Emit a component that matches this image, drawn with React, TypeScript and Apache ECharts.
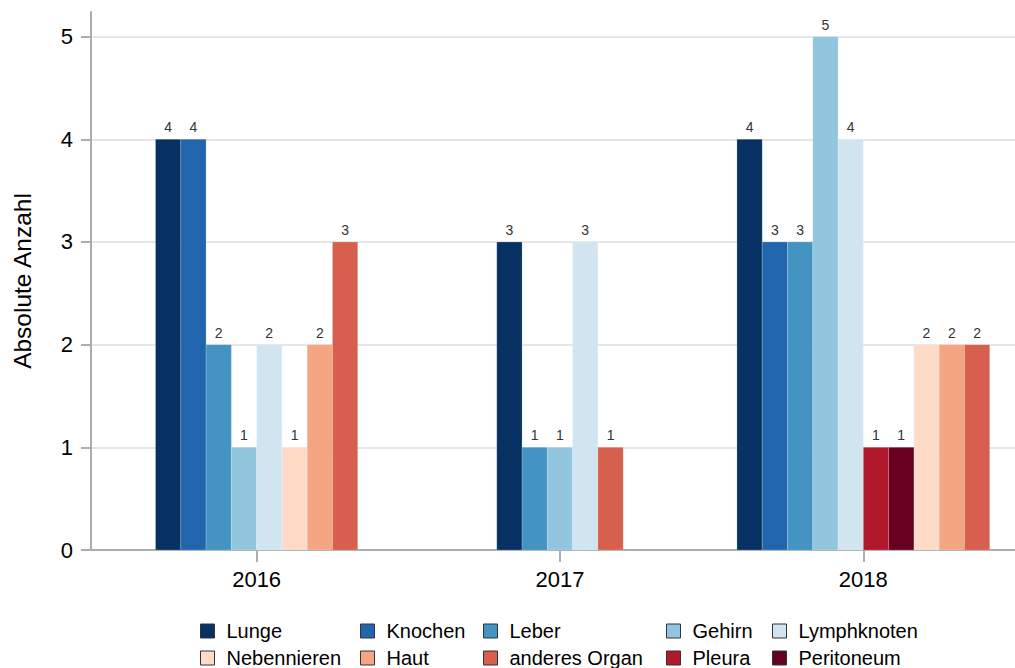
import React, { useEffect, useRef } from "react";
import * as echarts from "echarts";

const categories = ["2016", "2017", "2018"];
const organs = ["Lunge", "Knochen", "Leber", "Gehirn", "Lymphknoten", "Nebennieren", "Haut", "anderes Organ", "Pleura", "Peritoneum"];
const lunge = [4, 3, 4];
const knochen = [4, 0, 3];
const leber = [2, 1, 3];
const gehirn = [1, 1, 5];
const lymphknoten = [2, 3, 4];
const nebennieren = [1, 0, 2];
const haut = [2, 0, 2];
const anderesOrgan = [3, 1, 2];
const pleura = [0, 0, 1];
const peritoneum = [0, 0, 1];
const barOrder = ["Lunge", "Knochen", "Leber", "Gehirn", "Lymphknoten", "Pleura", "Peritoneum", "Nebennieren", "Haut", "anderes Organ"];
const yTicks = [0, 1, 2, 3, 4, 5];
const colors = ["#073163", "#2166ac", "#4393c3", "#92c5de", "#d1e5f0", "#fddbc7", "#f4a582", "#d6604d", "#b2182b", "#67001f"];
const legendColumns = [
  ["Lunge", "Nebennieren"],
  ["Knochen", "Haut"],
  ["Leber", "anderes Organ"],
  ["Gehirn", "Pleura"],
  ["Lymphknoten", "Peritoneum"],
];
const legendLefts = [200, 360, 483, 666, 772];

const values: number[][] = [lunge, knochen, leber, gehirn, lymphknoten, nebennieren, haut, anderesOrgan, pleura, peritoneum];
const FONT = "'Liberation Sans', Arial, sans-serif";
const BAR_UNIT = 1 / 12;

export default function App() {
  const ref = useRef<HTMLDivElement>(null);
  useEffect(() => {
    if (!ref.current) return;
    document.body.style.margin = "0";
    document.body.style.overflow = "hidden";
    const chart = echarts.init(ref.current, null, { renderer: "svg" });

    const slotInfo = categories.map((_, ci) =>
      barOrder.filter((o) => values[organs.indexOf(o)][ci] > 0)
    );

    const series = organs.map((name, si) => {
      const data: number[][] = [];
      categories.forEach((_, ci) => {
        const v = values[si][ci];
        if (v > 0) {
          const present = slotInfo[ci];
          data.push([ci, v, present.indexOf(name), present.length]);
        }
      });
      return {
        type: "custom",
        name,
        itemStyle: { color: colors[si] },
        encode: { x: 0, y: 1 },
        data,
        renderItem: (params: any, api: any) => {
          const cat = api.value(0);
          const val = api.value(1);
          const slot = api.value(2);
          const n = api.value(3);
          const bw = api.size([BAR_UNIT, 0])[0];
          const base = api.coord([cat, 0]);
          const top = api.coord([cat, val]);
          const x0 = base[0] - (n * bw) / 2 + slot * bw;
          return {
            type: "group",
            children: [
              {
                type: "rect",
                shape: { x: x0, y: top[1], width: bw, height: base[1] - top[1] },
                style: { fill: colors[si], stroke: "rgba(255,255,255,0.18)", lineWidth: 1 },
              },
              {
                type: "text",
                style: {
                  text: String(val),
                  x: x0 + bw / 2,
                  y: top[1] - 5,
                  align: "center",
                  verticalAlign: "bottom",
                  fill: "#333",
                  font: `14px ${FONT}`,
                },
              },
            ],
          };
        },
      };
    });

    const legends = legendColumns.map((col, i) => ({
      orient: "vertical",
      left: legendLefts[i],
      top: 621,
      padding: 0,
      itemGap: 7,
      itemWidth: 14,
      itemHeight: 14,
      icon: "rect",
      selectedMode: false,
      data: col,
      itemStyle: { borderColor: "#333", borderWidth: 1 },
      textStyle: { fontSize: 20, fontFamily: FONT, color: "#000", padding: [0, 0, 0, 7], lineHeight: 20 },
    }));

    chart.setOption({
      animation: false,
      backgroundColor: "#fff",
      grid: { left: 91, right: 0, top: 12, bottom: 118 },
      legend: legends,
      xAxis: {
        type: "value",
        min: -0.546,
        max: 2.5,
        axisLine: { show: true, onZero: false, lineStyle: { color: "#a9aeb3", width: 2 } },
        axisTick: { show: true, length: 12, lineStyle: { color: "#a9aeb3", width: 2 }, customValues: [0, 1, 2] },
        axisLabel: {
          customValues: [0, 1, 2],
          formatter: (v: number) => categories[Math.round(v)] ?? "",
          fontSize: 22,
          fontFamily: FONT,
          color: "#000",
          margin: 18,
        },
        splitLine: { show: false },
      },
      yAxis: {
        type: "value",
        min: 0,
        max: 5.24,
        axisLine: { show: true, onZero: false, lineStyle: { color: "#a9aeb3", width: 2 } },
        axisTick: { show: true, length: 10, lineStyle: { color: "#a9aeb3", width: 2 }, customValues: yTicks },
        axisLabel: {
          customValues: yTicks,
          fontSize: 22,
          fontFamily: FONT,
          color: "#000",
          margin: 18,
        },
        splitLine: { show: true, lineStyle: { color: "#e6e6e6", width: 2 } },
      },
      graphic: [
        {
          type: "text",
          x: 22,
          y: 281,
          rotation: Math.PI / 2,
          style: {
            text: "Absolute Anzahl",
            align: "center",
            verticalAlign: "middle",
            fill: "#000",
            font: `24.5px ${FONT}`,
          },
        },
      ],
      series,
    });
    return () => chart.dispose();
  }, []);
  return <div ref={ref} style={{ position: "absolute", left: 0, top: 0, width: 1015, height: 668 }} />;
}
